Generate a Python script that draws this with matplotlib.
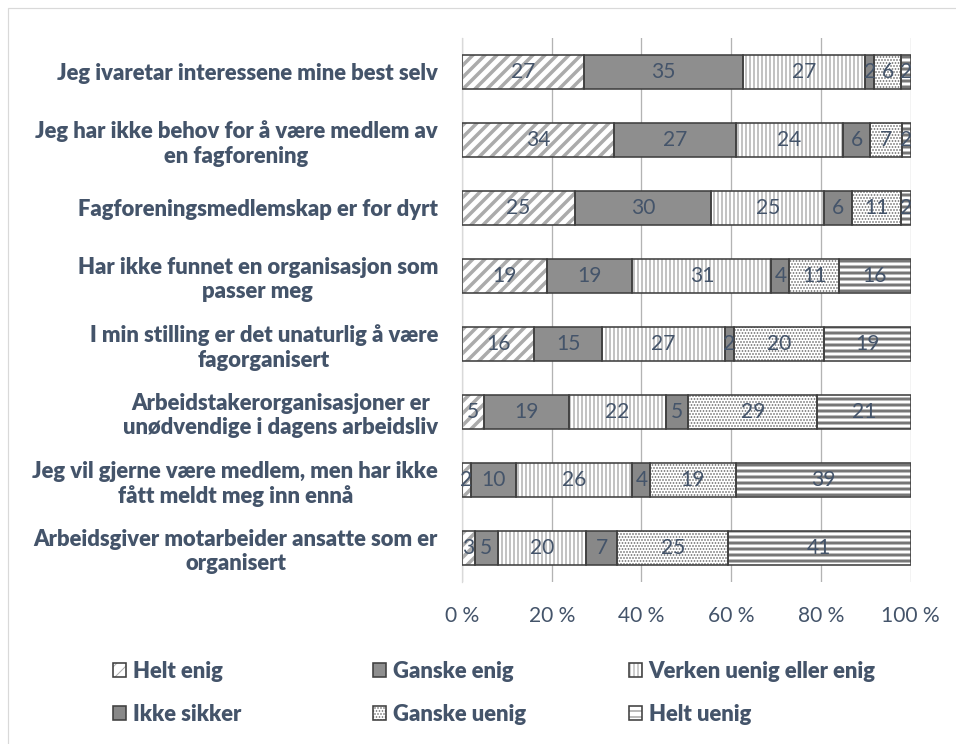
import numpy as np
import matplotlib
import matplotlib.pyplot as plt
from matplotlib.patches import Rectangle

# Survey answers (percent, as printed on the bars)
questions = [
    "Jeg ivaretar interessene mine best selv",
    "Jeg har ikke behov for å være medlem av\nen fagforening",
    "Fagforeningsmedlemskap er for dyrt",
    "Har ikke funnet en organisasjon som\npasser meg",
    "I min stilling er det unaturlig å være\nfagorganisert",
    "Arbeidstakerorganisasjoner er\nunødvendige i dagens arbeidsliv",
    "Jeg vil gjerne være medlem, men har ikke\nfått meldt meg inn ennå",
    "Arbeidsgiver motarbeider ansatte som er\norganisert",
]
answers = ["Helt enig", "Ganske enig", "Verken uenig eller enig",
           "Ikke sikker", "Ganske uenig", "Helt uenig"]

helt_enig = [27, 34, 25, 19, 16, 5, 2, 3]
ganske_enig = [35, 27, 30, 19, 15, 19, 10, 5]
verken = [27, 24, 25, 31, 27, 22, 26, 20]
ikke_sikker = [2, 6, 6, 4, 2, 5, 4, 7]
ganske_uenig = [6, 7, 11, 11, 20, 29, 19, 25]
helt_uenig = [2, 2, 2, 16, 19, 21, 39, 41]

series = [helt_enig, ganske_enig, verken, ikke_sikker, ganske_uenig, helt_uenig]

# look of each series: face, hatch, hatch colour, hatch width
styles = [
    ("white", "//", "#ababab", 3.5),
    ("#8e8e8e", "", "#8e8e8e", 1.0),
    ("white", "|||", "#9c9c9c", 1.2),
    ("#888888", "", "#888888", 1.0),
    ("white", "....", "#6a6a6a", 1.1),
    ("white", "--", "#777777", 3.0),
]

txt = "#44546a"
plt.rcParams["font.family"] = ["Lato", "DejaVu Sans"]

data = np.array(series, dtype=float)
pct = data / data.sum(axis=0) * 100

fig = plt.figure(figsize=(956 / 72, 744 / 72), dpi=72)
ax = fig.add_axes([462 / 956, 1 - 582 / 744, (910.5 - 462) / 956, (582 - 38) / 744])

y = np.arange(len(questions))
left = np.zeros(len(questions))
handles = []
for i, (vals, raw) in enumerate(zip(pct, series)):
    face, hatch, hcol, hlw = styles[i]
    with plt.rc_context({"hatch.linewidth": hlw}):
        fill = ax.barh(y, vals, left=left, height=0.49, color=face,
                       edgecolor=hcol, hatch=hatch, linewidth=0, zorder=2)
        for p in fill.patches:
            try:
                p.set_hatch_linewidth(hlw)
            except AttributeError:
                pass
    edge = ax.barh(y, vals, left=left, height=0.49, fill=False,
                   edgecolor="#404040", linewidth=1.6, zorder=3)
    ax.bar_label(fill, labels=[str(v) for v in raw], label_type="center",
                 color=txt, fontsize=21, zorder=4)
    handles.append((fill.patches[0], edge.patches[0]))
    left += vals

ax.set_xlim(0, 100)
ax.set_ylim(len(questions) - 0.5, -0.5)
ax.set_xticks(range(0, 101, 20))
ax.set_xticklabels([f"{t} %" for t in range(0, 101, 20)])
ax.set_yticks(y)
ax.set_yticklabels(questions, fontweight="heavy", multialignment="center")
ax.tick_params(axis="x", length=0, pad=24, labelsize=21, labelcolor=txt)
ax.tick_params(axis="y", length=0, pad=24, labelsize=22, labelcolor=txt)
ax.grid(axis="x", color="#b3b3b3", linewidth=1.3, zorder=0)
ax.set_axisbelow(True)
for s in ["top", "right", "bottom"]:
    ax.spines[s].set_visible(False)
ax.spines["left"].set_color("#d9d9d9")
ax.spines["left"].set_linewidth(1.3)

# legend laid out as three columns like the original
col_x = [104 / 956, 364 / 956, 620 / 956]
for c in range(3):
    idx = [c, c + 3]
    fig.legend([handles[k] for k in idx], [answers[k] for k in idx],
               loc="upper left", bbox_to_anchor=(col_x[c], 1 - 652 / 744),
               frameon=False, ncol=1, handlelength=0.6, handleheight=0.6,
               handletextpad=0.3, labelspacing=1.0, borderaxespad=0,
               prop={"weight": "heavy", "size": 22}, labelcolor=txt)

# thin frame round the chart area
fig.add_artist(Rectangle((8 / 956, -0.1), 1.0, 1.1 - 8 / 744, transform=fig.transFigure,
                         fill=False, edgecolor="#d9d9d9", linewidth=1.2))

fig.savefig("out.png", dpi=72)
